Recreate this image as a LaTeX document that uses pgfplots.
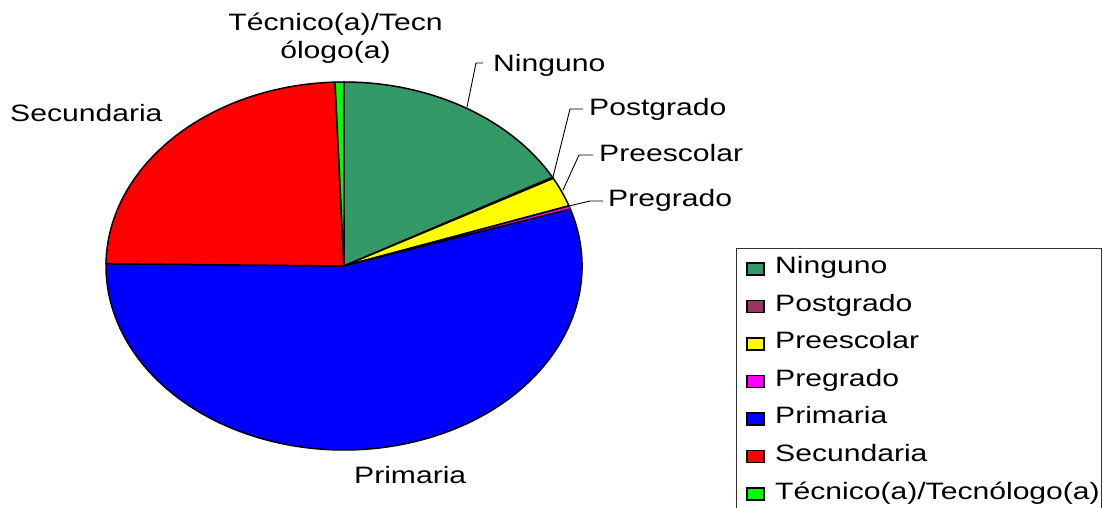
\documentclass[border=0pt]{standalone}
\usepackage{pgfplots}
\pgfplotsset{compat=1.18}
\usepackage{pgfplotstable}
\usepackage{graphicx}
\usepackage{fontspec}
\setmainfont{Liberation Sans}

\definecolor{cNing}{HTML}{339966}
\definecolor{cPost}{HTML}{993366}
\definecolor{cPrees}{HTML}{FFFF00}
\definecolor{cPreg}{HTML}{FF00FF}
\definecolor{cPrim}{HTML}{0000FF}
\definecolor{cSec}{HTML}{FF0000}
\definecolor{cTec}{HTML}{00FF00}

% percentage of each category
\pgfplotstableread{
label value
Ninguno 17.0
Postgrado 0.1
Preescolar 2.6
Pregrado 0.3
Primaria 55.2
Secundaria 24.2
Tecnico 0.6
}\piedata

\newcommand\lbl[1]{\scalebox{1.27}[1]{#1}}
\tikzset{lab/.style={inner sep=0pt, font=\fontsize{23.7bp}{28bp}\selectfont}}

\newcommand\pieslice[2]{%
  \fill[#2, draw=black, line width=1.5bp, line join=round] (axis cs:344,242) -- ++(\csname angS#1\endcsname:238bp and 184bp)
    arc[start angle=\csname angS#1\endcsname, end angle=\csname angE#1\endcsname, x radius=238bp, y radius=184bp] -- cycle;}

\newcommand\legrow[3]{%
  \fill[#2, draw=black, line width=1.6bp] (axis cs:747,{233-37.5*#1}) rectangle (axis cs:764,{245-37.5*#1});
  \node[lab, anchor=base west] at (axis cs:775,{234-37.5*#1}) {\lbl{#3}};}

\begin{document}
\begin{tikzpicture}
\xdef\angcur{90}
\foreach \i in {0,...,6}{%
  \pgfplotstablegetelem{\i}{value}\of\piedata
  \pgfmathsetmacro\nxt{\angcur-3.6*\pgfplotsretval}%
  \expandafter\xdef\csname angS\i\endcsname{\angcur}%
  \expandafter\xdef\csname angE\i\endcsname{\nxt}%
  \xdef\angcur{\nxt}%
}
\begin{axis}[
  at={(0,0)}, anchor=south west,
  width=1103bp, height=508bp, scale only axis,
  xmin=0, xmax=1103, ymin=0, ymax=508,
  hide axis, clip=false,
]
\pieslice{0}{cNing}
\pieslice{1}{cPost}
\pieslice{2}{cPrees}
\pieslice{3}{cPreg}
\pieslice{4}{cPrim}
\pieslice{5}{cSec}
\pieslice{6}{cTec}

% leader lines
\draw[line width=0.9bp] (axis cs:467,401) -- (axis cs:476,445) -- (axis cs:483,445);
\draw[line width=0.9bp] (axis cs:553,331) -- (axis cs:570,399) -- (axis cs:583,399);
\draw[line width=0.9bp] (axis cs:563,318) -- (axis cs:579,353) -- (axis cs:593,353);
\draw[line width=0.9bp] (axis cs:569,302) -- (axis cs:590,307) -- (axis cs:603,307);

% data labels
\node[lab, anchor=base west] at (axis cs:493,436) {\lbl{Ninguno}};
\node[lab, anchor=base west] at (axis cs:589,392) {\lbl{Postgrado}};
\node[lab, anchor=base west] at (axis cs:599,346) {\lbl{Preescolar}};
\node[lab, anchor=base west] at (axis cs:608,301) {\lbl{Pregrado}};
\node[lab, anchor=base west] at (axis cs:10,386) {\lbl{Secundaria}};
\node[lab, anchor=base west] at (axis cs:354,25) {\lbl{Primaria}};
\node[lab, anchor=base] at (axis cs:335.5,477) {\lbl{Técnico(a)/Tecn}};
\node[lab, anchor=base] at (axis cs:335.5,449) {\lbl{ólogo(a)}};

% legend
\draw[black!80, line width=0.9bp] (axis cs:736,0) -- (axis cs:736,260) -- (axis cs:1101,260) -- (axis cs:1101,0);
\legrow{0}{cNing}{Ninguno}
\legrow{1}{cPost}{Postgrado}
\legrow{2}{cPrees}{Preescolar}
\legrow{3}{cPreg}{Pregrado}
\legrow{4}{cPrim}{Primaria}
\legrow{5}{cSec}{Secundaria}
\legrow{6}{cTec}{Técnico(a)/Tecnólogo(a)}
\end{axis}
\pgfresetboundingbox
\path[use as bounding box] (0,0) rectangle (1103bp,508bp);
\end{tikzpicture}
\end{document}
